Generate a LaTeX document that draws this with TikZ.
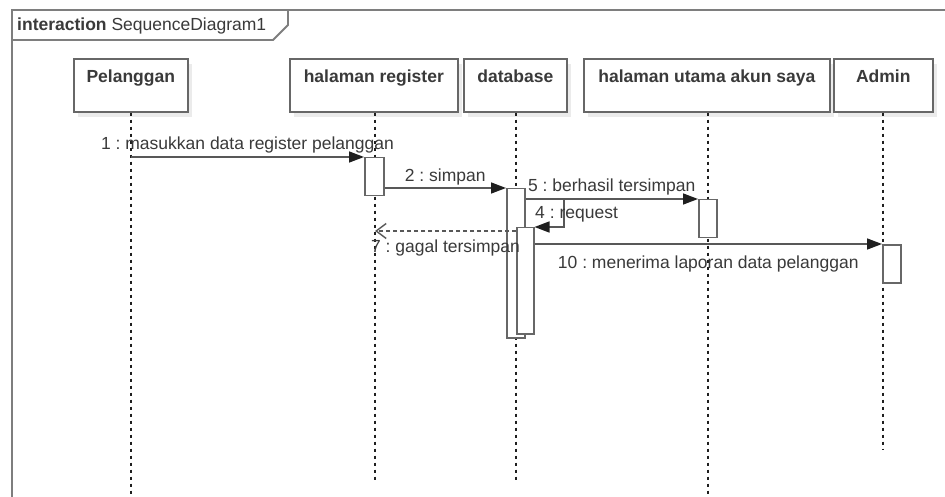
\documentclass[tikz,border=0pt]{standalone}
\usepackage{fontspec}
\setmainfont{Liberation Sans}
\usetikzlibrary{arrows.meta,shadows}
\frenchspacing

\definecolor{ink}{HTML}{3A3A3A}
\definecolor{boxline}{HTML}{676767}
\definecolor{frameline}{HTML}{7E7E7E}
\definecolor{wire}{HTML}{585858}
\definecolor{shade}{HTML}{EBEBEB}

\tikzset{
  every node/.style={font=\fontsize{17.5pt}{21pt}\selectfont, text=ink},
  frame/.style={draw=frameline, line width=1.8pt},
  headbox/.style={draw=boxline, line width=1.6pt, fill=white, anchor=north west,
    inner xsep=0pt, inner ysep=11pt, text height=13pt, text depth=18pt,
    font=\bfseries\fontsize{17.5pt}{21pt}\selectfont,
    drop shadow={shadow xshift=4pt, shadow yshift=-5pt, fill=shade, opacity=1}},
  actbox/.style={draw=boxline, line width=1.5pt, fill=white, anchor=north west,
    inner sep=0pt, minimum width=18pt},
  lifeline/.style={draw=black!88, line width=1.2pt, dash pattern=on 3.5pt off 3.5pt},
  msg/.style={draw=wire, line width=1.5pt,
    -{Triangle[length=15pt,width=11pt,color=black!88]}},
  reply/.style={draw=wire, line width=1.4pt, dash pattern=on 4pt off 3pt,
    -{Straight Barb[length=10pt,width=15pt,color=wire]}},
  msglabel/.style={anchor=base, inner sep=0pt},
}

\begin{document}
\begin{tikzpicture}[x=1pt, y=-1pt]
  \useasboundingbox[fill=white] (0,0) rectangle (945,497);

  % interaction frame and its name tab
  \draw[frame] (12,497) -- (12,10) -- (945,10);
  \draw[frame] (12,40) -- (273,40) -- (288,25) -- (288,10);
  \node[anchor=base west, inner sep=0pt, font=\fontsize{17.5pt}{21pt}\selectfont] (title)
    at (17,31) {\textbf{interaction} SequenceDiagram1};

  % lifeline heads
  \node[headbox, minimum width=114pt] (pel) at (73,58)  {Pelanggan};
  \node[headbox, minimum width=168pt] (reg) at (289,58) {halaman register};
  \node[headbox, minimum width=103pt] (db)  at (463,58) {database};
  \node[headbox, minimum width=246pt] (ut)  at (583,58) {halaman utama akun saya};
  \node[headbox, minimum width=99pt]  (adm) at (833,58) {Admin};

  % lifeline ends
  \coordinate (pl) at (131,497);
  \coordinate (rl) at (375,482);
  \coordinate (dl) at (516,482);
  \coordinate (ul) at (708,497);
  \coordinate (al) at (883,450);

  \draw[lifeline] (pl |- pel.south) -- (pl);
  \draw[lifeline] (rl |- reg.south) -- (rl);
  \draw[lifeline] (dl |- db.south)  -- (dl);
  \draw[lifeline] (ul |- ut.south)  -- (ul);
  \draw[lifeline] (al |- adm.south) -- (al);

  % activation bars
  \node[actbox, minimum width=19pt, minimum height=38pt] (a1) at (364,157) {};
  \node[actbox, minimum height=149pt] (d1) at (506,188) {};
  \node[actbox, minimum width=17pt, minimum height=106pt] (d2) at (516,227) {};
  \node[actbox, minimum height=38pt] (u1) at (698,199) {};
  \node[actbox, minimum height=38pt] (m1) at (882,244) {};

  % messages
  \draw[msg] (a1.north west -| pl) --
    node[msglabel, yshift=7.5pt] (l1) {1 : masukkan data register pelanggan} (a1.north west);
  \draw[msg] (a1.east |- d1.north west) --
    node[msglabel, yshift=6.5pt] (l2) {2 : simpan} (d1.north west);
  \draw[msg] (d1.east |- u1.north west) --
    node[msglabel, yshift=7.5pt] (l5) {5 : berhasil tersimpan} (u1.north west);

  % self call on the database
  \coordinate (selfturn) at (564,199);
  \draw[msg] (d1.east |- selfturn) -- (selfturn) -- (selfturn |- d2.north east) -- (d2.north east);
  \node[anchor=base west, inner sep=0pt] (l4) at (535,218.5) {4 : request};

  % failure reply
  \coordinate (back) at (516,231);
  \draw[reply] (back) --
    node[msglabel, yshift=-21.5pt] (l7) {7 : gagal tersimpan} (back -| rl);

  % report to admin
  \draw[msg] (d2.east |- m1.north west) --
    node[msglabel, yshift=-24.5pt] (l10) {10 : menerima laporan data pelanggan} (m1.north west);
\end{tikzpicture}
\end{document}
